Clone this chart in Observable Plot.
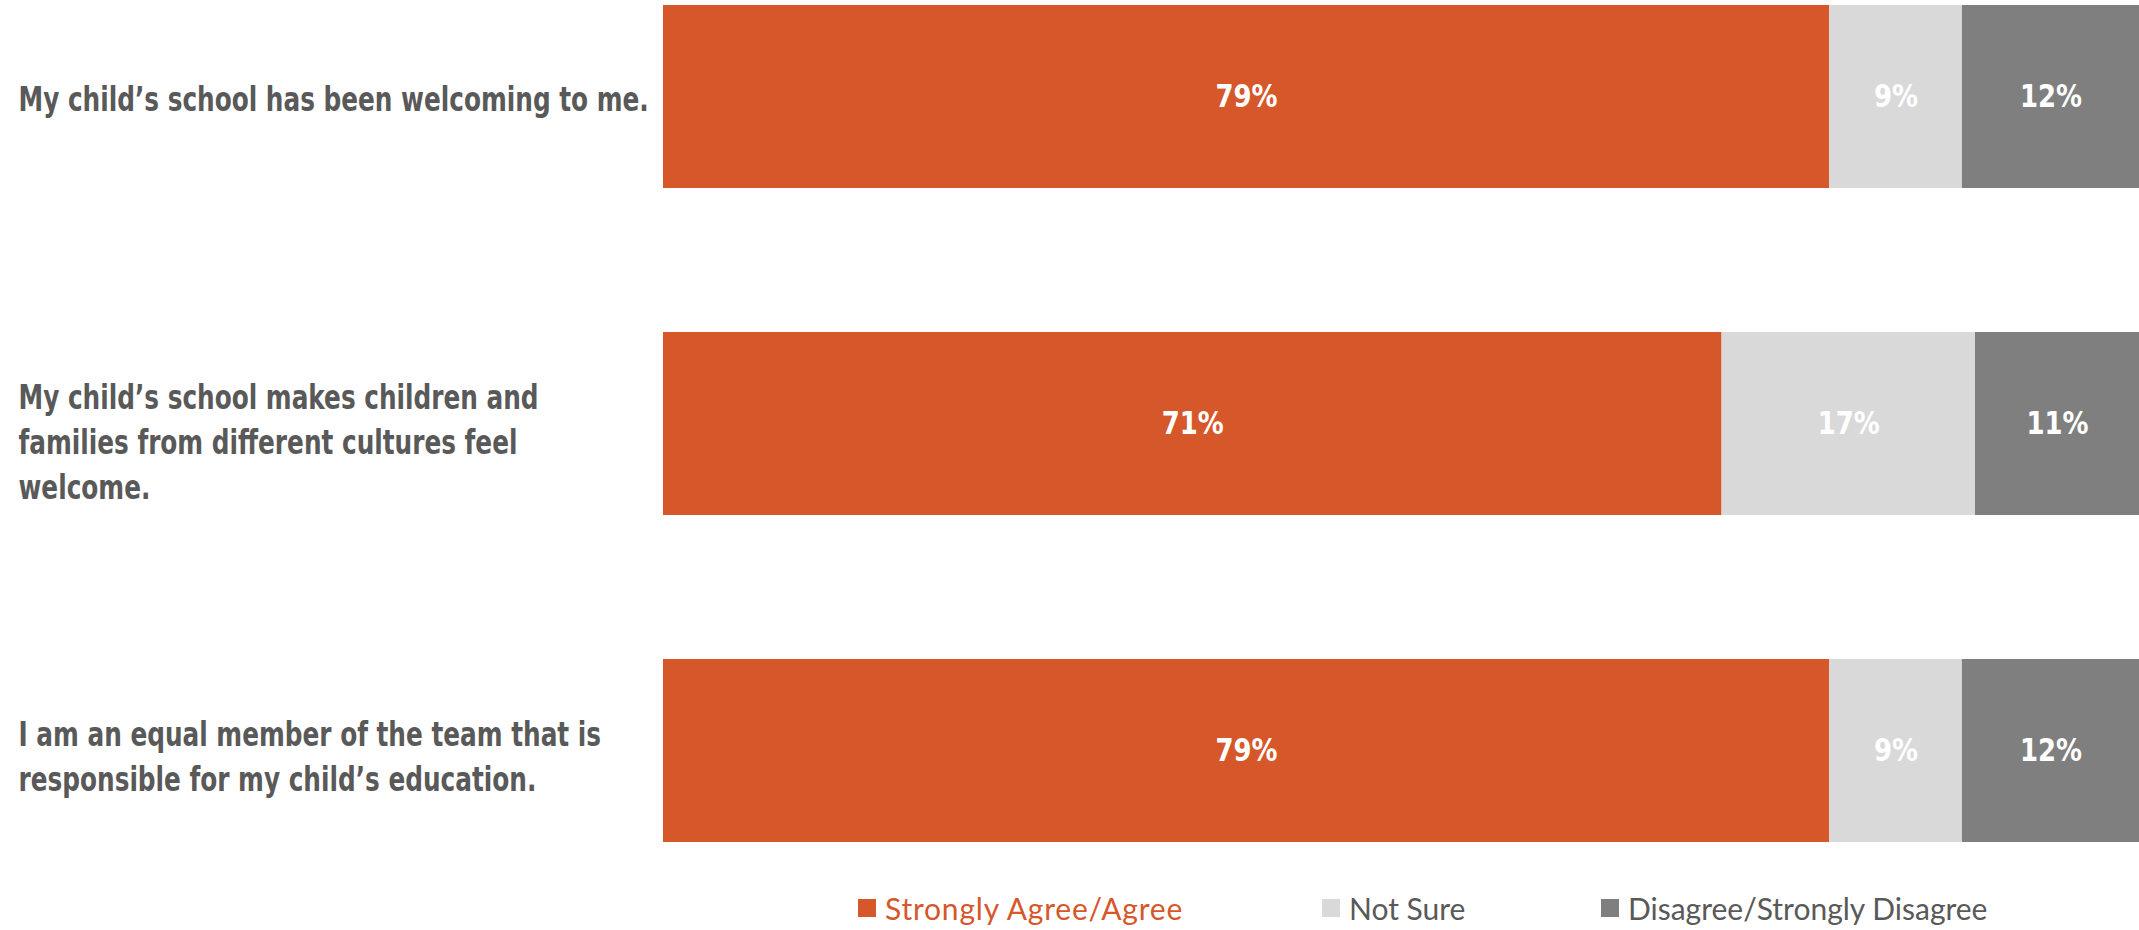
<!DOCTYPE html>
<html><head><meta charset="utf-8">
<script src="https://cdn.jsdelivr.net/npm/d3@7"></script>
<script src="https://cdn.jsdelivr.net/npm/@observablehq/plot@0.6"></script>
<style>
body{margin:0;background:#fff;width:2139px;height:930px;overflow:hidden;}
#legend{position:relative;height:80px;font-family:Lato,"Open Sans",sans-serif;font-size:30px;color:#595959;}
.item{position:absolute;top:40px;display:flex;align-items:center;white-space:nowrap;}
.sw{width:18px;height:18px;margin-right:9px;}
</style>
</head><body>
<div id="chart"></div>
<div id="legend"></div>
<script>
const statements = [
  "My child’s school has been welcoming to me.",
  "My child’s school makes children and families from different cultures feel welcome.",
  "I am an equal member of the team that is responsible for my child’s education."
];
const statementLines = [
  "My child’s school has been welcoming to me.",
  "My child’s school makes children and\nfamilies from different cultures feel\nwelcome.",
  "I am an equal member of the team that is\nresponsible for my child’s education."
];
const categories = ["Strongly Agree/Agree", "Not Sure", "Disagree/Strongly Disagree"];
const agree = [79, 71, 79];
const notSure = [9, 17, 9];
const disagree = [12, 11, 12];
const colors = ["#D6572A", "#D9D9D9", "#7F7F7F"];
const legendX = [858, 1322, 1601];
const labelDy = [0, 16, 3];

const series = [agree, notSure, disagree];
const data = [];
statements.forEach((s, i) => categories.forEach((c, j) => data.push({statement: s, category: c, value: series[j][i]})));
const labels = statements.map((s, i) => ({statement: s, text: statementLines[i]}));

const condensed = "'Liberation Sans Narrow', 'DejaVu Sans Condensed', sans-serif";

const chart = Plot.plot({
  width: 2139,
  height: 850,
  marginLeft: 663,
  marginRight: 0,
  marginTop: 4,
  marginBottom: 7,
  x: {axis: null, domain: [0, 1]},
  y: {axis: null, domain: statements, paddingInner: 0.44, paddingOuter: 0},
  color: {domain: categories, range: colors},
  marks: [
    Plot.barX(data, Plot.stackX({x: "value", y: "statement", fill: "category", order: categories, offset: "normalize"})),
    Plot.text(data, Plot.stackX({x: "value", y: "statement", z: "category", order: categories, offset: "normalize",
      text: d => d.value + "%", fill: "white", fontSize: 32, fontWeight: "bold", fontFamily: condensed})),
    ...labels.map((l, i) => Plot.text([l], {y: "statement", text: "text", frameAnchor: "left", textAnchor: "start",
      dx: -645, dy: labelDy[i], fill: "#595959", fontSize: 34, fontWeight: "bold", lineHeight: 1.32,
      fontFamily: condensed}))
  ]
});
document.getElementById("chart").appendChild(chart);

// narrow the glyphs horizontally to mimic a condensed typeface
d3.select(chart).selectAll("text").each(function() {
  const el = this;
  const isLabel = d3.select(el.parentNode).attr("fill") === "#595959";
  const bb = el.getBBox();
  const x0 = isLabel ? bb.x : bb.x + bb.width / 2;
  const s = isLabel ? 0.81 : 0.9;
  const prev = el.getAttribute("transform") || "";
  el.setAttribute("transform", `${prev} translate(${x0},0) scale(${s},1) translate(${-x0},0)`);
});

const legend = d3.select("#legend");
categories.forEach((c, i) => {
  const it = legend.append("div").attr("class", "item").style("left", legendX[i] + "px");
  it.append("div").attr("class", "sw").style("background", colors[i]);
  it.append("span").text(c).style("color", i === 0 ? colors[0] : "#595959")
    .style("letter-spacing", i === 0 ? "0.8px" : "0px");
});
</script>
</body></html>
